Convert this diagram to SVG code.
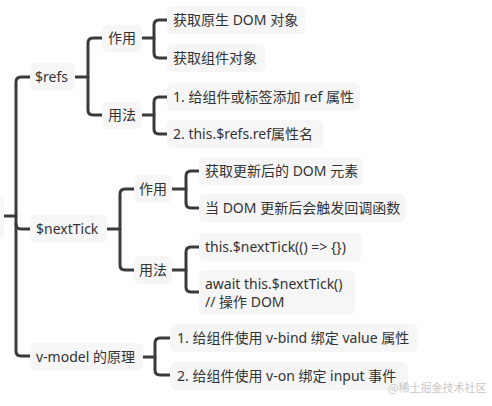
<svg xmlns="http://www.w3.org/2000/svg" width="492" height="406" viewBox="0 0 492 406">
<style>
.b{fill:#f6f6f6}
.t{font-family:"Noto Sans","Noto Sans CJK SC",sans-serif;font-size:14px;fill:#333}
.c{fill:none;stroke:#3a3a3a;stroke-width:3;stroke-linecap:round;stroke-linejoin:round}
.w{font-family:"Noto Sans CJK SC",sans-serif;font-size:11px;fill:#c8c8c8}
</style>
<rect width="492" height="406" fill="#fff"/>
<g id="connectors">
<path class="c" d="M3,216 H16"/>
<path class="c" d="M30,77 H21 Q16,77 16,82 V351 Q16,356 21,356 H30"/>
<path class="c" d="M16,224 Q16,229 21,229 H30"/>
<path class="c" d="M75,77 H88"/>
<path class="c" d="M102,38 H93 Q88,38 88,43 V110 Q88,115 93,115 H102"/>
<path class="c" d="M142,38 H154"/>
<path class="c" d="M167,20 H159 Q154,20 154,25 V53 Q154,58 159,58 H167"/>
<path class="c" d="M142,115 H154"/>
<path class="c" d="M167,97 H159 Q154,97 154,102 V129 Q154,134 159,134 H167"/>
<path class="c" d="M107,229 H120"/>
<path class="c" d="M134,189 H125 Q120,189 120,194 V265 Q120,270 125,270 H134"/>
<path class="c" d="M172,189 H186"/>
<path class="c" d="M199,171 H191 Q186,171 186,176 V203 Q186,208 191,208 H199"/>
<path class="c" d="M172,270 H186"/>
<path class="c" d="M199,247 H191 Q186,247 186,252 V287 Q186,292 191,292 H199"/>
<path class="c" d="M143,357 H155"/>
<path class="c" d="M170,338 H160 Q155,338 155,343 V370 Q155,375 160,375 H170"/>
</g>
<g id="root"><rect class="b" x="-8" y="197" width="12" height="41" rx="6"/></g>
<g id="refs"><rect class="b" x="30" y="63" width="45" height="28" rx="6"/><text class="t" x="35" y="82">$refs</text></g>
<g id="refs-use"><rect class="b" x="102" y="25" width="40" height="27" rx="6"/><text class="t" x="108" y="43">作用</text></g>
<g id="refs-how"><rect class="b" x="102" y="102" width="40" height="27" rx="6"/><text class="t" x="108" y="120">用法</text></g>
<g id="refs-use-1"><rect class="b" x="167" y="6" width="138" height="28" rx="6"/><text class="t" x="173" y="25">获取原生 DOM 对象</text></g>
<g id="refs-use-2"><rect class="b" x="167" y="44" width="98" height="28" rx="6"/><text class="t" x="173" y="63">获取组件对象</text></g>
<g id="refs-how-1"><rect class="b" x="167" y="83" width="193" height="28" rx="6"/><text class="t" x="173" y="102">1. 给组件或标签添加 ref 属性</text></g>
<g id="refs-how-2"><rect class="b" x="167" y="120" width="156" height="28" rx="6"/><text class="t" x="173" y="139">2. this.$refs.ref属性名</text></g>
<g id="nexttick"><rect class="b" x="30" y="215" width="77" height="28" rx="6"/><text class="t" x="36" y="234">$nextTick</text></g>
<g id="nt-use"><rect class="b" x="134" y="175" width="38" height="28" rx="6"/><text class="t" x="139" y="194">作用</text></g>
<g id="nt-how"><rect class="b" x="134" y="256" width="38" height="28" rx="6"/><text class="t" x="139" y="275">用法</text></g>
<g id="nt-use-1"><rect class="b" x="199" y="157" width="164" height="28" rx="6"/><text class="t" x="205" y="176">获取更新后的 DOM 元素</text></g>
<g id="nt-use-2"><rect class="b" x="199" y="194" width="207" height="28" rx="6"/><text class="t" x="205" y="213">当 DOM 更新后会触发回调函数</text></g>
<g id="nt-how-1"><rect class="b" x="199" y="233" width="163" height="28" rx="6"/><text class="t" x="205" y="252">this.$nextTick(() =&gt; {})</text></g>
<g id="nt-how-2"><rect class="b" x="199" y="270" width="156" height="45" rx="6"/><text class="t" x="205" y="289">await this.$nextTick()</text><text class="t" x="205" y="307">// 操作 DOM</text></g>
<g id="vmodel"><rect class="b" x="30" y="343" width="113" height="28" rx="6"/><text class="t" x="36" y="362">v-model 的原理</text></g>
<g id="vmodel-1"><rect class="b" x="170" y="324" width="248" height="28" rx="6"/><text class="t" x="177" y="343">1. 给组件使用 v-bind 绑定 value 属性</text></g>
<g id="vmodel-2"><rect class="b" x="170" y="362" width="238" height="28" rx="6"/><text class="t" x="177" y="381">2. 给组件使用 v-on 绑定 input 事件</text></g>
<text class="w" x="388" y="392">@稀土掘金技术社区</text>
</svg>
